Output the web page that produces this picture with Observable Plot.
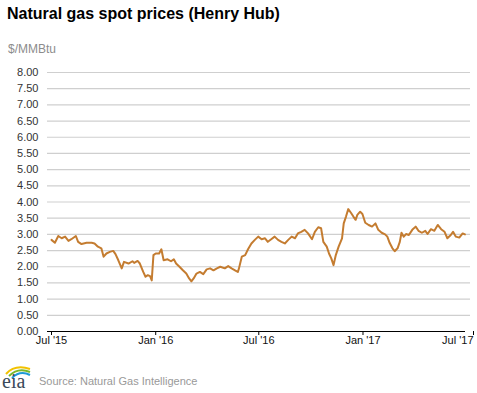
<!DOCTYPE html>
<html>
<head>
<meta charset="utf-8">
<script src="https://cdn.jsdelivr.net/npm/d3@7"></script>
<script src="https://cdn.jsdelivr.net/npm/@observablehq/plot@0.6"></script>
<style>
  html, body { margin: 0; padding: 0; background: #fff; }
  body { width: 477px; height: 393px; position: relative; overflow: hidden; font-family: Arial, "Liberation Sans", sans-serif; }
  .title { position: absolute; left: 7px; top: 5px; font-size: 16px; font-weight: bold; color: #000; white-space: nowrap; }
  .unit { position: absolute; left: 8px; top: 42px; font-size: 12px; color: #8c8c8c; white-space: nowrap; }
  .source { position: absolute; left: 39px; top: 375px; font-size: 11px; color: #999; white-space: nowrap; }
  #chart { position: absolute; left: 0; top: 60px; }
  #logo { position: absolute; left: 1px; top: 363px; }
</style>
</head>
<body>
<div class="title">Natural gas spot prices (Henry Hub)</div>
<div class="unit">$/MMBtu</div>
<div id="chart"></div>
<svg id="logo" width="32" height="30" viewBox="0 0 32 30">
  <path d="M5 11 Q14 1 29 6" fill="none" stroke="#f2c200" stroke-width="2"/>
  <path d="M8 13 Q17 4 29 9" fill="none" stroke="#79b829" stroke-width="2"/>
  <path d="M11 15 Q19 7 29 12" fill="none" stroke="#1d9ad6" stroke-width="2"/>
  <text x="1" y="25" font-family="'Liberation Serif', 'DejaVu Serif', serif" font-size="20" fill="#3a4a5a">eia</text>
</svg>
<div class="source">Source: Natural Gas Intelligence</div>
<script>
const dates = [
  "2015-07-01","2015-07-07","2015-07-13","2015-07-19","2015-07-25","2015-07-31",
  "2015-08-05","2015-08-13","2015-08-17","2015-08-23","2015-09-01","2015-09-10",
  "2015-09-15","2015-09-21","2015-09-27","2015-10-01","2015-10-06","2015-10-12",
  "2015-10-18","2015-10-22","2015-10-27","2015-11-02","2015-11-06","2015-11-14",
  "2015-11-21","2015-11-24","2015-11-30","2015-12-04","2015-12-10","2015-12-14",
  "2015-12-18","2015-12-22","2015-12-25","2015-12-28","2016-01-01","2016-01-07",
  "2016-01-11","2016-01-15","2016-01-22","2016-01-28","2016-02-02","2016-02-06",
  "2016-02-12","2016-02-18","2016-02-24","2016-02-29","2016-03-04","2016-03-08",
  "2016-03-13","2016-03-19","2016-03-25","2016-03-31","2016-04-06","2016-04-12",
  "2016-04-18","2016-04-24","2016-05-02","2016-05-08","2016-05-14","2016-05-20",
  "2016-05-25","2016-05-27","2016-06-01","2016-06-07","2016-06-12","2016-06-18",
  "2016-06-24","2016-06-30","2016-07-06","2016-07-12","2016-07-17","2016-07-23",
  "2016-07-29","2016-08-04","2016-08-10","2016-08-16","2016-08-22","2016-08-28",
  "2016-09-03","2016-09-08","2016-09-14","2016-09-20","2016-09-26","2016-10-03",
  "2016-10-08","2016-10-14","2016-10-19","2016-10-23","2016-10-29","2016-11-02",
  "2016-11-06","2016-11-10","2016-11-14","2016-11-19","2016-11-25","2016-11-28",
  "2016-12-02","2016-12-06","2016-12-11","2016-12-15","2016-12-19","2016-12-22",
  "2016-12-27","2016-12-31","2017-01-05","2017-01-11","2017-01-17","2017-01-23",
  "2017-01-28","2017-02-03","2017-02-09","2017-02-13","2017-02-17","2017-02-22",
  "2017-02-26","2017-03-03","2017-03-07","2017-03-10","2017-03-14","2017-03-18",
  "2017-03-23","2017-03-29","2017-04-04","2017-04-09","2017-04-15","2017-04-21",
  "2017-04-25","2017-05-01","2017-05-07","2017-05-13","2017-05-19","2017-05-25",
  "2017-05-30","2017-06-05","2017-06-09","2017-06-14","2017-06-20","2017-06-26",
  "2017-06-30"
];
const prices = [
  2.83,2.74,2.95,2.88,2.93,2.80,
  2.85,2.95,2.77,2.70,2.74,2.74,
  2.72,2.62,2.57,2.31,2.41,2.46,
  2.49,2.39,2.20,1.95,2.15,2.10,
  2.17,2.12,2.18,2.10,1.84,1.69,
  1.74,1.71,1.58,2.36,2.41,2.41,
  2.54,2.20,2.23,2.17,2.23,2.10,
  2.00,1.89,1.79,1.64,1.55,1.64,
  1.79,1.84,1.77,1.92,1.95,1.89,
  1.95,2.00,1.95,2.02,1.95,1.89,
  1.84,1.95,2.31,2.36,2.54,2.72,
  2.83,2.93,2.85,2.88,2.77,2.85,
  2.93,2.83,2.77,2.72,2.83,2.93,
  2.88,3.03,3.08,3.14,3.03,2.85,
  3.08,3.22,3.19,2.77,2.62,2.41,
  2.26,2.05,2.36,2.62,2.88,3.34,
  3.55,3.78,3.66,3.55,3.45,3.60,
  3.70,3.63,3.36,3.29,3.24,3.34,
  3.14,3.05,3.00,2.93,2.74,2.57,
  2.48,2.57,2.77,3.05,2.93,3.01,
  2.98,3.14,3.24,3.11,3.05,3.11,
  3.01,3.16,3.11,3.29,3.16,3.08,
  2.88,2.98,3.08,2.93,2.90,3.03,
  3.00
];
const xTickDates = ["2015-07-01","2016-01-01","2016-07-01","2017-01-01","2017-07-01"];
const xTickLabels = ["Jul '15","Jan '16","Jul '16","Jan '17","Jul '17"];
const yTicks = [0,0.5,1,1.5,2,2.5,3,3.5,4,4.5,5,5.5,6,6.5,7,7.5,8];

const data = dates.map((d, i) => ({date: new Date(d), price: prices[i]}));
const xTicks = xTickDates.map(d => new Date(d));
const labelMap = new Map(xTicks.map((d, i) => [+d, xTickLabels[i]]));
const lastTick = xTicks[xTicks.length - 1];

const chart = Plot.plot({
  width: 477,
  height: 291,
  marginTop: 12,
  marginBottom: 20,
  marginLeft: 51,
  marginRight: 12,
  style: {fontFamily: "Arial, 'Liberation Sans', sans-serif", fontSize: "11px", color: "#333", background: "transparent", overflow: "visible"},
  x: {type: "utc", domain: [xTicks[0], lastTick]},
  y: {domain: [0, 8]},
  marks: [
    Plot.ruleY(yTicks.filter(v => v > 0), {stroke: "#cfcfcf", strokeWidth: 1.2, insetLeft: -4, insetRight: -5}),
    Plot.ruleY([0], {stroke: "#000", strokeWidth: 1.2, insetLeft: -4}),
    Plot.axisY({ticks: yTicks, tickFormat: d3.format(".2f"), tickSize: 0, tickPadding: 13, label: null, fill: "#333"}),
    Plot.axisX({ticks: xTicks.slice(0, -1), tickFormat: d => labelMap.get(+d), tickSize: 4, tickPadding: 1, label: null, stroke: "#000", fill: "#111"}),
    Plot.axisX({ticks: [lastTick], tickFormat: d => labelMap.get(+d), tickSize: 4, tickPadding: 1, label: null, stroke: "#000", fill: "#111", textAnchor: "end", dx: 8}),
    Plot.line(data, {x: "date", y: "price", stroke: "#c47c30", strokeWidth: 2})
  ]
});
document.getElementById("chart").appendChild(chart);
</script>
</body>
</html>
